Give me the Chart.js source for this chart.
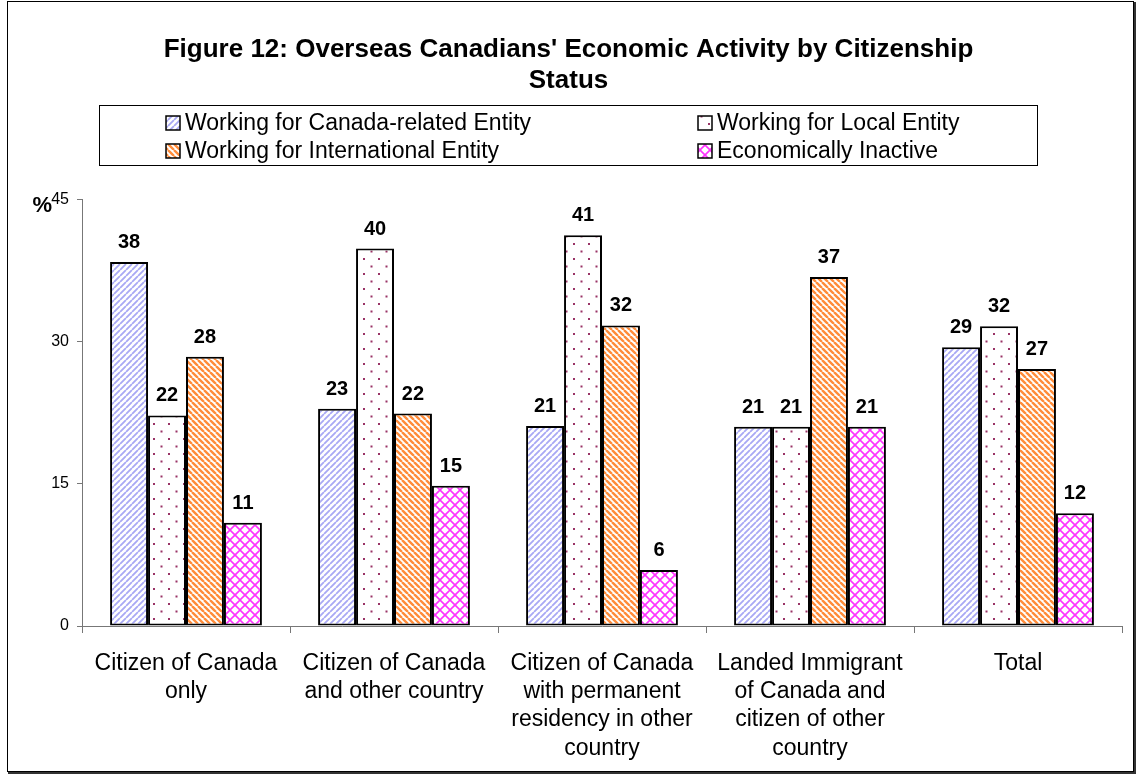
<!DOCTYPE html>
<html>
<head>
<meta charset="utf-8">
<title>Economic Activity by Citizenship Status</title>
<script src="https://cdn.jsdelivr.net/npm/chart.js@4"></script>
<style>
  html, body { margin: 0; padding: 0; background: #fff; }
  #wrap { width: 1137px; height: 774px; }
</style>
</head>
<body>
<div id="wrap"><canvas id="chart" width="1137" height="774"></canvas></div>
<script>
const categories = [
  ["Citizen of Canada", "only"],
  ["Citizen of Canada", "and other country"],
  ["Citizen of Canada", "with permanent", "residency in other", "country"],
  ["Landed Immigrant", "of Canada and", "citizen of other", "country"],
  ["Total"]
];
const seriesNames = [
  "Working for Canada-related Entity",
  "Working for Local Entity",
  "Working for International Entity",
  "Economically Inactive"
];
const canadaRelated = [38.4, 22.9, 21.1, 21.0, 29.4];
const localEntity = [22.2, 39.8, 41.2, 21.0, 31.6];
const international = [28.4, 22.4, 31.7, 36.8, 27.1];
const inactive = [10.9, 14.8, 5.9, 21.0, 11.9];
const yTicks = [0, 15, 30, 45];

const FONT = "'Liberation Sans', Arial, sans-serif";

// hatch fills, built on small tiles
function makeTile(size, draw) {
  const c = document.createElement("canvas");
  c.width = size;
  c.height = size;
  const g = c.getContext("2d");
  g.fillStyle = "#fff";
  g.fillRect(0, 0, size, size);
  draw(g, size);
  return c;
}

function diagonal(color, width, up) {
  return (g, s) => {
    g.strokeStyle = color;
    g.lineWidth = width;
    g.beginPath();
    for (let k = -1; k <= 1; k++) {
      if (up) {
        g.moveTo(k * s, s);
        g.lineTo(k * s + s, 0);
      } else {
        g.moveTo(k * s, 0);
        g.lineTo(k * s + s, s);
      }
    }
    g.stroke();
  };
}

const tiles = [
  makeTile(6, diagonal("#a8a8f4", 1.8, true)),
  makeTile(15, (g) => {
    g.fillStyle = "#993366";
    g.fillRect(3, 3, 2, 2);
    g.fillRect(10.5, 10.5, 2, 2);
  }),
  makeTile(6, diagonal("#ff8c3a", 2.4, false)),
  makeTile(10, (g, s) => {
    diagonal("#ff33ff", 1.6, true)(g, s);
    diagonal("#ff33ff", 1.6, false)(g, s);
  })
];

const ctx0 = document.getElementById("chart").getContext("2d");
const fills = tiles.map((t) => ctx0.createPattern(t, "repeat"));

const valueLabels = {
  id: "valueLabels",
  afterDatasetsDraw(chart) {
    const ctx = chart.ctx;
    ctx.save();
    ctx.font = "bold 20px " + FONT;
    ctx.fillStyle = "#000";
    ctx.textAlign = "center";
    ctx.textBaseline = "alphabetic";
    chart.data.datasets.forEach((ds, i) => {
      chart.getDatasetMeta(i).data.forEach((bar, j) => {
        ctx.fillText(String(Math.round(ds.data[j])), bar.x, bar.y - 14);
      });
    });
    ctx.restore();
  }
};

const frame = {
  id: "frame",
  afterDraw(chart) {
    const ctx = chart.ctx;
    ctx.save();
    // outer border
    ctx.strokeStyle = "#000";
    ctx.lineWidth = 1;
    ctx.strokeRect(7.5, 1.5, 1126, 770);
    ctx.lineWidth = 2;
    ctx.strokeStyle = "#333";
    ctx.beginPath();
    ctx.moveTo(1135, 2);
    ctx.lineTo(1135, 773);
    ctx.lineTo(8, 773);
    ctx.stroke();

    // unit mark next to the top tick
    ctx.fillStyle = "#000";
    ctx.font = "bold 22px " + FONT;
    ctx.textAlign = "right";
    ctx.textBaseline = "alphabetic";
    ctx.fillText("%", 52, 212);

    // legend
    const box = { left: 99, top: 105, right: 1037, bottom: 165 };
    ctx.lineWidth = 1;
    ctx.strokeStyle = "#000";
    ctx.strokeRect(box.left + 0.5, box.top + 0.5, box.right - box.left, box.bottom - box.top);
    ctx.font = "23px " + FONT;
    ctx.textAlign = "left";
    ctx.textBaseline = "middle";
    const cols = [166, 698];
    const rows = [123, 151];
    [0, 1, 2, 3].forEach((k, n) => {
      const x = cols[n % 2];
      const y = rows[Math.floor(n / 2)];
      ctx.fillStyle = fills[k];
      ctx.fillRect(x, y - 7, 14, 14);
      ctx.strokeStyle = "#000";
      ctx.lineWidth = 1.5;
      ctx.strokeRect(x, y - 7, 14, 14);
      ctx.fillStyle = "#000";
      ctx.fillText(chart.data.datasets[k].label, x + 19, y + 1);
    });
    ctx.restore();
  }
};

const seriesData = [canadaRelated, localEntity, international, inactive];

new Chart(ctx0, {
  type: "bar",
  data: {
    labels: categories,
    datasets: seriesData.map((vals, i) => ({
      label: seriesNames[i],
      data: vals,
      backgroundColor: fills[i],
      borderColor: "#000",
      borderWidth: 2,
      borderSkipped: false,
      barPercentage: 1,
      categoryPercentage: 0.73
    }))
  },
  options: {
    responsive: false,
    animation: false,
    events: [],
    layout: { padding: { left: 15, right: 15, top: 0, bottom: 0 } },
    plugins: {
      legend: { display: false },
      tooltip: { enabled: false },
      title: {
        display: true,
        text: ["Figure 12: Overseas Canadians' Economic Activity by Citizenship", "Status"],
        color: "#000",
        font: { family: FONT, size: 26, weight: "bold", lineHeight: 1.2 },
        padding: { top: 34, bottom: 102.9 }
      }
    },
    scales: {
      x: {
        grid: { display: true, drawOnChartArea: false, drawTicks: true, tickLength: 7, color: "#777", offset: true },
        border: { display: true, color: "#777", width: 1 },
        ticks: {
          color: "#000",
          padding: 17,
          maxRotation: 0,
          autoSkip: false,
          font: { family: FONT, size: 23, lineHeight: 1.22 }
        },
        afterFit(scale) { scale.height = 148; }
      },
      y: {
        min: 0,
        max: 45,
        afterBuildTicks(scale) { scale.ticks = yTicks.map((v) => ({ value: v })); },
        grid: { display: true, drawOnChartArea: false, drawTicks: true, tickLength: 5, color: "#777" },
        border: { display: true, color: "#777", width: 1 },
        ticks: {
          color: "#000",
          padding: 8,
          font: { family: FONT, size: 16 }
        },
        afterFit(scale) { scale.width = 67; }
      }
    }
  },
  plugins: [valueLabels, frame]
});
</script>
</body>
</html>
